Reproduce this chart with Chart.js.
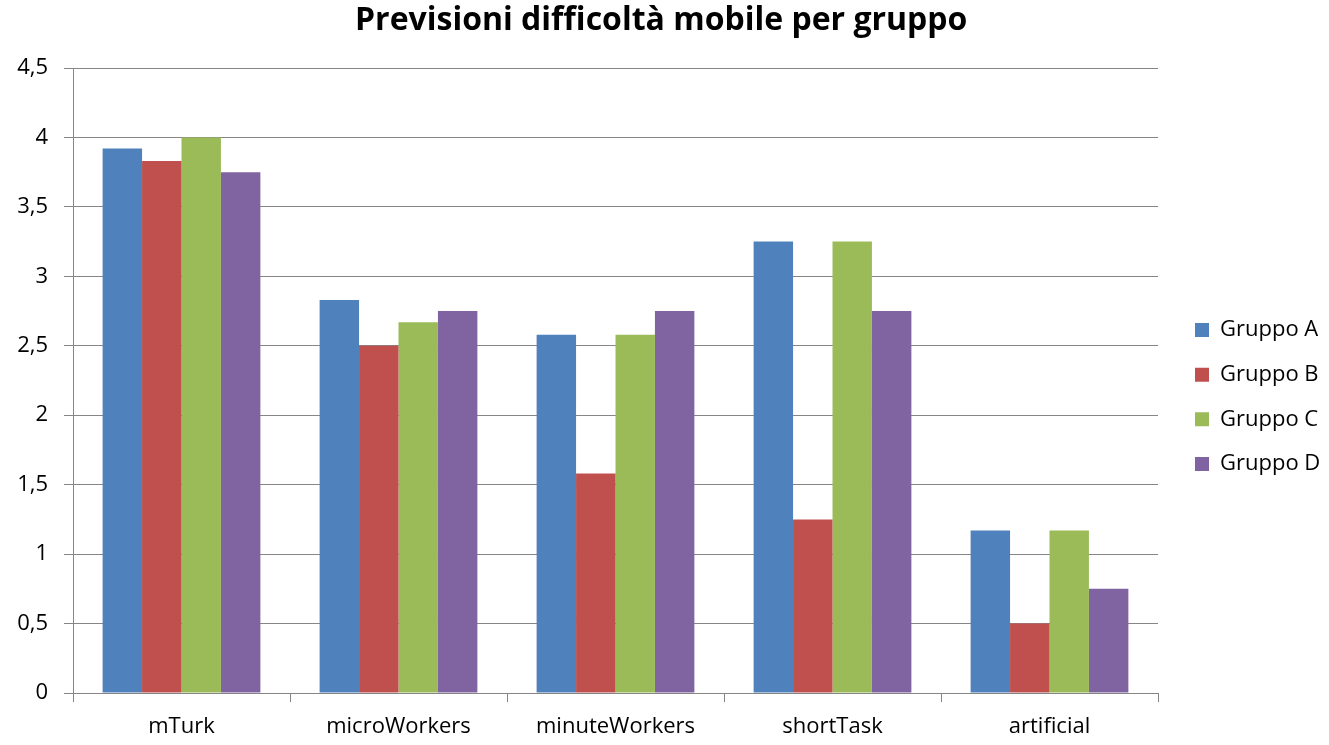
<!DOCTYPE html>
<html>
<head>
<meta charset="utf-8">
<title>Previsioni difficoltà mobile per gruppo</title>
<script src="https://cdn.jsdelivr.net/npm/chart.js@4.4.0/dist/chart.umd.min.js"></script>
<style>
  html, body { margin: 0; padding: 0; background: #fff; }
  canvas { display: block; }
</style>
</head>
<body>
<canvas id="difficoltaChart" width="1329" height="745"></canvas>
<script>
// data
const categories = ['mTurk', 'microWorkers', 'minuteWorkers', 'shortTask', 'artificial'];
const gruppoA = [3.92, 2.83, 2.58, 3.25, 1.17];
const gruppoB = [3.83, 2.5, 1.58, 1.25, 0.5];
const gruppoC = [4.0, 2.67, 2.58, 3.25, 1.17];
const gruppoD = [3.75, 2.75, 2.75, 2.75, 0.75];
const yTickLabels = ['0', '0,5', '1', '1,5', '2', '2,5', '3', '3,5', '4', '4,5'];

const gridColor = '#868686';
const fontFamily = '"Open Sans", Lato, sans-serif';

const canvas = document.getElementById('difficoltaChart');
const ctx = canvas.getContext('2d');

new Chart(ctx, {
  type: 'bar',
  data: {
    labels: categories,
    datasets: [
      { label: 'Gruppo A', data: gruppoA, backgroundColor: '#4F81BD' },
      { label: 'Gruppo B', data: gruppoB, backgroundColor: '#C0504D' },
      { label: 'Gruppo C', data: gruppoC, backgroundColor: '#9BBB59' },
      { label: 'Gruppo D', data: gruppoD, backgroundColor: '#8064A2' }
    ]
  },
  options: {
    responsive: false,
    animation: false,
    categoryPercentage: 0.727,
    barPercentage: 1.0,
    layout: { padding: { left: 0, right: 6.6, top: 0, bottom: 0 } },
    scales: {
      x: {
        grid: {
          drawOnChartArea: false,
          drawTicks: true,
          tickLength: 9,
          color: gridColor
        },
        border: { color: gridColor },
        ticks: {
          color: '#000',
          padding: 12,
          font: { family: fontFamily, size: 22 }
        },
        afterFit: (scale) => { scale.height = 52; }
      },
      y: {
        min: 0,
        max: 4.5,
        ticks: {
          stepSize: 0.5,
          color: '#000',
          padding: 16,
          font: { family: fontFamily, size: 22 },
          callback: (value, index) => yTickLabels[index]
        },
        grid: { color: gridColor, tickLength: 9 },
        border: { color: gridColor },
        afterFit: (scale) => { scale.width = 73; }
      },
      // empty spacer between plot and legend
      spacer: {
        type: 'linear',
        position: 'right',
        display: true,
        grid: { display: false },
        border: { display: false },
        ticks: { display: false },
        afterFit: (scale) => { scale.width = 14.4; }
      }
    },
    plugins: {
      title: {
        display: true,
        text: 'Previsioni difficoltà mobile per gruppo',
        color: '#000',
        font: { family: fontFamily, size: 32, weight: 'bold' },
        padding: { top: 2, bottom: 27.6 }
      },
      legend: {
        position: 'right',
        maxWidth: 150,
        title: {
          display: true,
          text: ' ',
          font: { size: 10 },
          padding: { top: 18, bottom: 19 }
        },
        labels: {
          boxWidth: 14,
          boxHeight: 14,
          padding: 22.6,
          color: '#000',
          font: { family: fontFamily, size: 22 }
        }
      },
      tooltip: { enabled: false }
    }
  }
});
</script>
</body>
</html>
